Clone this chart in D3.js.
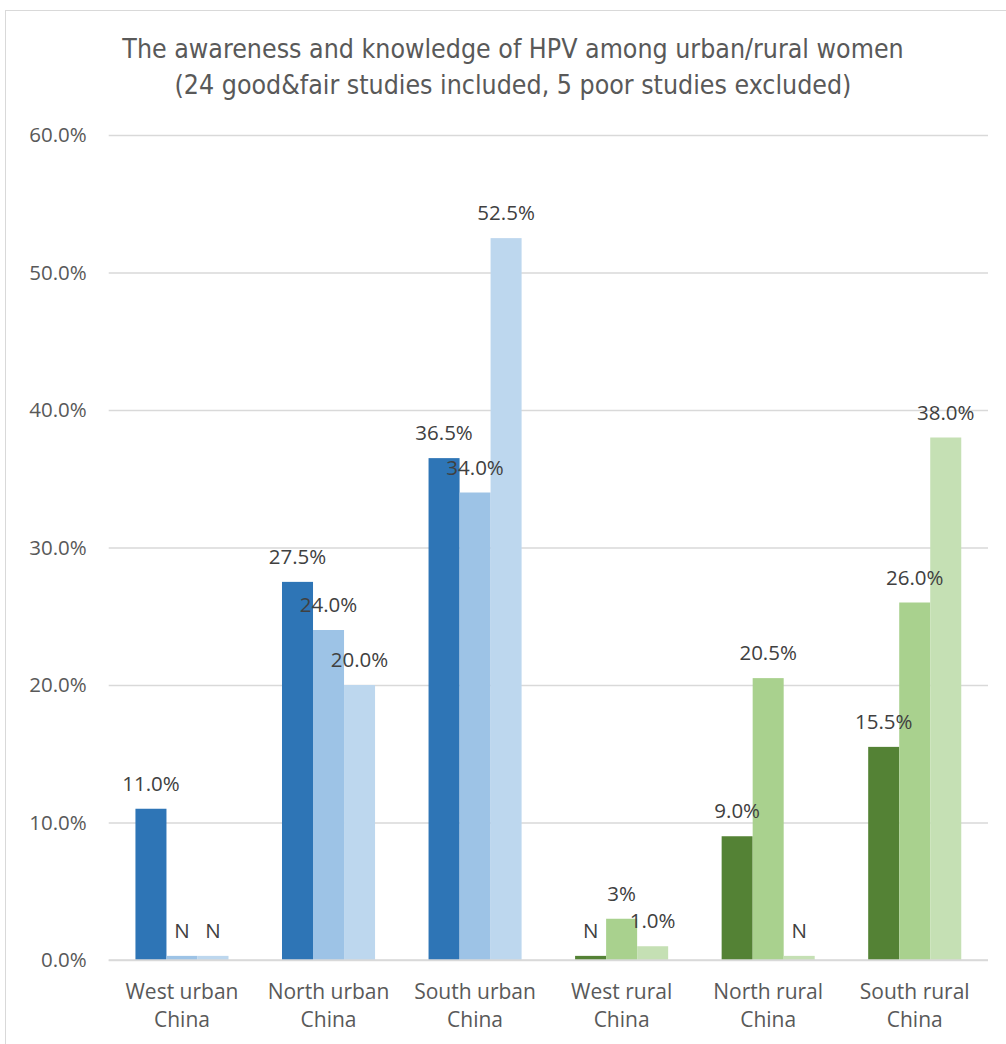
<!DOCTYPE html>
<html>
<head>
<meta charset="utf-8">
<script src="https://cdn.jsdelivr.net/npm/d3@7"></script>
<style>
  body { margin: 0; background: #fff; }
  svg text { font-family: "Open Sans", "Noto Sans", sans-serif; }
</style>
</head>
<body>
<svg id="chart" width="1006" height="1044"></svg>
<script>
const categories = ['West urban China', 'North urban China', 'South urban China',
    'West rural China', 'North rural China', 'South rural China'];
const catLines = [['West urban', 'China'], ['North urban', 'China'], ['South urban', 'China'],
    ['West rural', 'China'], ['North rural', 'China'], ['South rural', 'China']];
// three bars per region; null = "N" (no data, drawn as a sliver)
const series1 = [11.0, 27.5, 36.5, null, 9.0, 15.5];
const series2 = [null, 24.0, 34.0, 3.0, 20.5, 26.0];
const series3 = [null, 20.0, 52.5, 1.0, null, 38.0];
const valueLabels = [
    ['11.0%', 'N', 'N'],
    ['27.5%', '24.0%', '20.0%'],
    ['36.5%', '34.0%', '52.5%'],
    ['N', '3%', '1.0%'],
    ['9.0%', '20.5%', 'N'],
    ['15.5%', '26.0%', '38.0%']
];
const yTicks = [0, 10, 20, 30, 40, 50, 60];
const urbanColors = ['#2E75B6', '#9DC3E6', '#BDD7EE'];
const ruralColors = ['#548235', '#A9D18E', '#C5E0B4'];
const nullHeight = 0.3;

const svg = d3.select('#chart');

// chart frame
svg.append('rect')
    .attr('x', 5.5).attr('y', 10.5)
    .attr('width', 1020).attr('height', 1060)
    .attr('fill', 'none')
    .attr('stroke', '#D9D9D9');

const title = svg.append('text')
    .attr('text-anchor', 'middle')
    .attr('fill', '#595959')
    .style('font-family', '"Liberation Sans Narrow", "DejaVu Sans Condensed", sans-serif')
    .attr('font-size', 26.5);
title.append('tspan').attr('x', 513).attr('y', 58)
    .text('The awareness and knowledge of HPV among urban/rural women');
title.append('tspan').attr('x', 513).attr('y', 94)
    .text('(24 good&fair studies included, 5 poor studies excluded)');

const plot = { left: 108.7, right: 988, top: 135, bottom: 960 };

const x = d3.scaleBand()
    .domain(categories)
    .range([plot.left, plot.right])
    .paddingInner(0.365)
    .paddingOuter(0.1825);

const xs = d3.scaleBand()
    .domain([0, 1, 2])
    .range([0, x.bandwidth()]);

const y = d3.scaleLinear()
    .domain([0, 60])
    .range([plot.bottom, plot.top]);

// gridlines + y labels
const yAxis = d3.axisLeft(y)
    .tickValues(yTicks)
    .tickSize(-(plot.right - plot.left))
    .tickPadding(22)
    .tickFormat(d => d.toFixed(1) + '%');

const gy = svg.append('g')
    .attr('transform', `translate(${plot.left},0)`)
    .call(yAxis);
gy.select('.domain').remove();
gy.selectAll('.tick line').attr('stroke', '#D9D9D9').attr('stroke-width', 1.3);
gy.selectAll('.tick text')
    .attr('fill', '#595959')
    .attr('font-size', 20.5);

const seriesAll = [series1, series2, series3];
const rows = categories.map((c, i) => ({
    cat: c,
    idx: i,
    bars: seriesAll.map((s, k) => ({ k, v: s[i], label: valueLabels[i][k] }))
}));

const groups = svg.append('g').selectAll('g')
    .data(rows)
    .join('g')
    .attr('transform', d => `translate(${x(d.cat)},0)`);

groups.selectAll('rect')
    .data(d => d.bars.map(b => ({ ...b, rural: d.idx >= 3 })))
    .join('rect')
    .attr('x', d => xs(d.k))
    .attr('width', xs.bandwidth())
    .attr('y', d => y(d.v === null ? nullHeight : d.v))
    .attr('height', d => y(0) - y(d.v === null ? nullHeight : d.v))
    .attr('fill', d => (d.rural ? ruralColors : urbanColors)[d.k]);

groups.selectAll('text.val')
    .data(d => d.bars)
    .join('text')
    .attr('class', 'val')
    .attr('x', d => xs(d.k) + xs.bandwidth() / 2)
    .attr('y', d => y(d.v === null ? nullHeight : d.v) - 18)
    .attr('text-anchor', 'middle')
    .attr('fill', '#404040')
    .attr('font-size', 20.5)
    .text(d => d.label);

// baseline
svg.append('line')
    .attr('x1', plot.left).attr('x2', plot.right)
    .attr('y1', y(0)).attr('y2', y(0))
    .attr('stroke', '#D9D9D9').attr('stroke-width', 1.5);

// category labels
const xl = svg.append('g').selectAll('text')
    .data(categories)
    .join('text')
    .attr('text-anchor', 'middle')
    .attr('fill', '#595959')
    .attr('font-size', 21);
xl.each(function (d, i) {
    const t = d3.select(this);
    catLines[i].forEach((line, j) => {
        t.append('tspan')
            .attr('x', x(d) + x.bandwidth() / 2)
            .attr('y', 999 + j * 28)
            .text(line);
    });
});
</script>
</body>
</html>
